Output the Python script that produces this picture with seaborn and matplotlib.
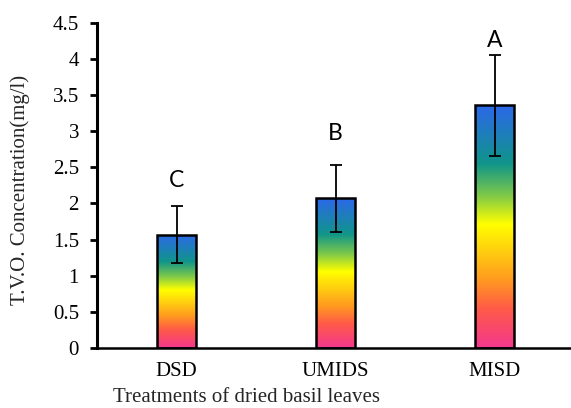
import numpy as np
import pandas as pd
import matplotlib
matplotlib.use("Agg")
import matplotlib.pyplot as plt
from matplotlib.colors import LinearSegmentedColormap
import seaborn as sns

categories = ["DSD", "UMIDS", "MISD"]
means = [1.57, 2.07, 3.36]
errors = [0.39, 0.46, 0.70]
letters = ["C", "B", "A"]
letter_y = [2.32, 2.97, 4.26]
yticks = [0, 0.5, 1, 1.5, 2, 2.5, 3, 3.5, 4, 4.5]
ytick_labels = ["0", "0.5", "1", "1.5", "2", "2.5", "3", "3.5", "4", "4.5"]

sns.set_theme(style="white")
plt.rcParams["font.family"] = ["Liberation Serif", "DejaVu Serif"]

df = pd.DataFrame({"treatment": categories, "value": means})

fig = plt.figure(figsize=(5.71, 4.08), dpi=100)
ax = fig.add_axes([97 / 571, 60 / 408, 477 / 571, 325.3 / 408])

sns.barplot(data=df, x="treatment", y="value", ax=ax, width=0.25,
            facecolor="none", edgecolor="black", linewidth=1.8, zorder=3)

grad = LinearSegmentedColormap.from_list("rb", [
    (0.00, "#f2388e"),
    (0.16, "#ff5a48"),
    (0.28, "#ff9a20"),
    (0.51, "#ffff00"),
    (0.63, "#7cc84a"),
    (0.76, "#10958a"),
    (1.00, "#2c68ea"),
])
g = np.linspace(0, 1, 256).reshape(-1, 1)
for p in ax.patches:
    x0, y0 = p.get_x(), p.get_y()
    w, h = p.get_width(), p.get_height()
    im = ax.imshow(g, cmap=grad, origin="lower", aspect="auto",
                   extent=[x0, x0 + w, y0, y0 + h], zorder=2)
    im.set_clip_path(p)

xs = np.arange(len(categories))
ax.errorbar(xs, means, yerr=errors, fmt="none", ecolor="black",
            elinewidth=1.3, capsize=4.5, capthick=1.3, zorder=4)

for xi, lab, ly in zip(xs, letters, letter_y):
    ax.text(xi, ly, lab, ha="center", va="center", fontsize=16.5,
            family=["Lato", "DejaVu Sans"], color="black")

ax.set_xlim(-0.5, 2.5)
ax.set_ylim(0, 4.5)
ax.set_yticks(yticks)
ax.set_yticklabels(ytick_labels)

for s in ["top", "right"]:
    ax.spines[s].set_visible(False)
ax.spines["left"].set_linewidth(2.2)
ax.spines["bottom"].set_linewidth(1.8)
ax.spines["left"].set_color("black")
ax.spines["bottom"].set_color("black")

ax.tick_params(axis="y", direction="out", length=5, width=2.0,
               labelsize=15, pad=8, left=True, colors="black")
ax.tick_params(axis="x", length=0, labelsize=15, pad=10, colors="black")

ax.set_xlabel("Treatments of dried basil leaves", fontsize=15)
ax.xaxis.set_label_coords(0.314, -0.124)
ax.set_ylabel("T.V.O. Concentration(mg/l)", fontsize=15)
ax.yaxis.set_label_coords(-0.14, 0.486)

fig.savefig("out.png", dpi=100)
